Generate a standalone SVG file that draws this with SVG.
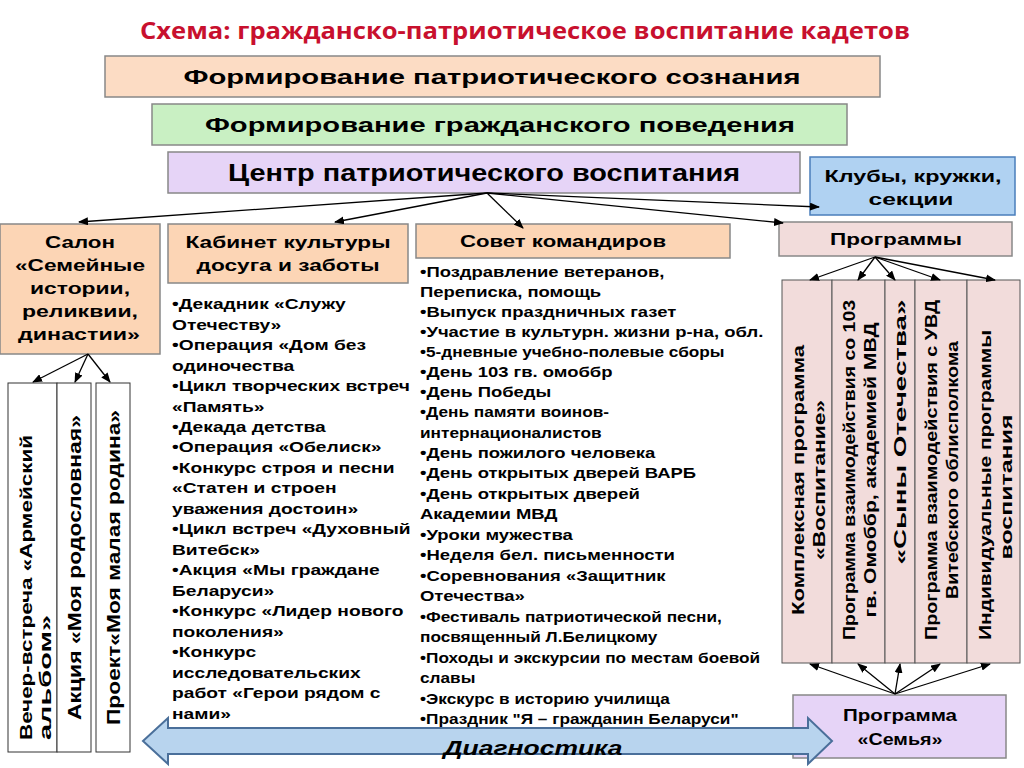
<svg xmlns="http://www.w3.org/2000/svg" width="1024" height="768" viewBox="0 0 1024 768">
<defs>
<marker id="ah" markerWidth="10" markerHeight="8" refX="9" refY="4" orient="auto" markerUnits="userSpaceOnUse"><path d="M0,0 L10,4 L0,8 Z" fill="#000"/></marker>
<style>
text{font-family:"Liberation Sans",Arial,sans-serif;font-weight:bold;fill:#000}
.b{stroke:#888;stroke-width:1.5}
.h{font-size:21px;text-anchor:middle}
.s{font-size:17px;text-anchor:middle}
.l{font-size:15px}
.v{font-size:16px;text-anchor:middle}
.c line{stroke:#000;stroke-width:1.3;marker-end:url(#ah)}
</style>
</defs>
<rect width="1024" height="768" fill="#fff"/>
<text x="525" y="39" textLength="770" lengthAdjust="spacingAndGlyphs" style="font-family:'Open Sans','Liberation Sans',sans-serif;font-size:24px;fill:#c8102e" text-anchor="middle">Схема: гражданско-патриотическое воспитание кадетов</text>
<g id="n1"><rect class="b" x="105" y="56" width="775" height="41" fill="#fcdcc4"/><text class="h" x="492" y="84" textLength="617" lengthAdjust="spacingAndGlyphs">Формирование патриотического сознания</text></g>
<g id="n2"><rect class="b" x="152" y="104" width="695" height="41" fill="#c9f0c3"/><text class="h" x="500" y="132" textLength="590" lengthAdjust="spacingAndGlyphs">Формирование гражданского поведения</text></g>
<g id="n3"><rect class="b" x="168" y="152" width="632" height="41" fill="#e6d4f7"/><text class="h" x="484" y="181" style="font-size:23px" textLength="512" lengthAdjust="spacingAndGlyphs">Центр патриотического воспитания</text></g>
<g id="n4"><rect x="810" y="157" width="205" height="58" fill="#b0d2f2" stroke="#4a7ebb" stroke-width="1.5"/><text class="s" x="913" y="182" textLength="177" lengthAdjust="spacingAndGlyphs">Клубы, кружки,</text><text class="s" x="911" y="205" textLength="85" lengthAdjust="spacingAndGlyphs">секции</text></g>
<g id="n5"><rect class="b" x="0" y="224" width="160" height="130" fill="#fcd5b5"/><text class="s" x="80" y="248" textLength="70" lengthAdjust="spacingAndGlyphs">Салон</text><text class="s" x="80" y="271" textLength="130" lengthAdjust="spacingAndGlyphs">«Семейные</text><text class="s" x="80" y="294" textLength="100" lengthAdjust="spacingAndGlyphs">истории,</text><text class="s" x="80" y="317" textLength="116" lengthAdjust="spacingAndGlyphs">реликвии,</text><text class="s" x="79" y="340" textLength="122" lengthAdjust="spacingAndGlyphs">династии»</text></g>
<g id="n6"><rect class="b" x="168" y="224" width="240" height="59" fill="#fcd5b5"/><text class="s" x="288" y="248" textLength="205" lengthAdjust="spacingAndGlyphs">Кабинет культуры</text><text class="s" x="288" y="271" textLength="183" lengthAdjust="spacingAndGlyphs">досуга и заботы</text></g>
<g id="n7"><rect class="b" x="416" y="224" width="314" height="34" fill="#fcd5b5"/><text class="s" x="563" y="247" textLength="206" lengthAdjust="spacingAndGlyphs">Совет командиров</text></g>
<g id="n8"><rect class="b" x="779" y="222" width="233" height="34" fill="#f2dcdb"/><text class="s" x="896" y="245" textLength="132" lengthAdjust="spacingAndGlyphs">Программы</text></g>
<g id="list1" class="l" transform="translate(172,0) scale(1.28,1) translate(-172,0)">
<text x="172" y="309">•Декадник «Служу</text>
<text x="172" y="330">Отечеству»</text>
<text x="172" y="350">•Операция «Дом без</text>
<text x="172" y="371">одиночества</text>
<text x="172" y="391">•Цикл творческих встреч</text>
<text x="172" y="412">«Память»</text>
<text x="172" y="432">•Декада детства</text>
<text x="172" y="452">•Операция «Обелиск»</text>
<text x="172" y="473">•Конкурс строя и песни</text>
<text x="172" y="493">«Статен и строен</text>
<text x="172" y="514">уважения достоин»</text>
<text x="172" y="534">•Цикл встреч «Духовный</text>
<text x="172" y="555">Витебск»</text>
<text x="172" y="575">•Акция «Мы граждане</text>
<text x="172" y="596">Беларуси»</text>
<text x="172" y="616">•Конкурс «Лидер нового</text>
<text x="172" y="637">поколения»</text>
<text x="172" y="657">•Конкурс</text>
<text x="172" y="678">исследовательских</text>
<text x="172" y="698">работ «Герои рядом с</text>
<text x="172" y="719">нами»</text>
</g>
<g id="list2" class="l" transform="translate(420,0) scale(1.23,1) translate(-420,0)">
<text x="420" y="277">•Поздравление ветеранов,</text>
<text x="420" y="297">Переписка, помощь</text>
<text x="420" y="317">•Выпуск праздничных газет</text>
<text x="420" y="337">•Участие в культурн. жизни р-на, обл.</text>
<text x="420" y="357" style="font-size:14px">•5-дневные учебно-полевые сборы</text>
<text x="420" y="377">•День 103 гв. омоббр</text>
<text x="420" y="397">•День Победы</text>
<text x="420" y="417" style="font-size:14px">•День памяти воинов-</text>
<text x="420" y="438" style="font-size:14px">интернационалистов</text>
<text x="420" y="458">•День пожилого человека</text>
<text x="420" y="478">•День открытых дверей ВАРБ</text>
<text x="420" y="499">•День открытых дверей</text>
<text x="420" y="519">Академии МВД</text>
<text x="420" y="540">•Уроки мужества</text>
<text x="420" y="560">•Неделя бел. письменности</text>
<text x="420" y="581">•Соревнования «Защитник</text>
<text x="420" y="601">Отечества»</text>
<text x="420" y="622" style="font-size:14px">•Фестиваль патриотической песни,</text>
<text x="420" y="642" style="font-size:14px">посвященный Л.Белицкому</text>
<text x="420" y="663" style="font-size:14px">•Походы и экскурсии по местам боевой</text>
<text x="420" y="683" style="font-size:14px">славы</text>
<text x="420" y="704" style="font-size:14px">•Экскурс в историю училища</text>
<text x="420" y="724" style="font-size:14px">•Праздник "Я – гражданин Беларуси"</text>
</g>
<g id="v1"><rect x="8" y="383" width="49" height="369" fill="#fff" stroke="#333"/><text transform="translate(32,740) rotate(-90)" style="font-size:16px" textLength="305" lengthAdjust="spacingAndGlyphs">Вечер-встреча «Армейский</text><text transform="translate(51,740) rotate(-90)" style="font-size:16px" textLength="125" lengthAdjust="spacingAndGlyphs">альбом»</text></g>
<g id="v2"><rect x="57" y="383" width="34" height="369" fill="#fff" stroke="#333"/><text transform="translate(81,720) rotate(-90)" style="font-size:18px" textLength="305" lengthAdjust="spacingAndGlyphs">Акция «Моя родословная»</text></g>
<g id="v3"><rect x="96" y="383" width="34" height="369" fill="#fff" stroke="#333"/><text transform="translate(120,725) rotate(-90)" style="font-size:18px" textLength="315" lengthAdjust="spacingAndGlyphs">Проект«Моя малая родина»</text></g>
<g id="p1"><rect x="782" y="280" width="50" height="383" fill="#f2dcdb" stroke="#555"/><text class="v" transform="translate(804,480) rotate(-90)" textLength="270" lengthAdjust="spacingAndGlyphs">Комплексная программа</text><text class="v" transform="translate(825,480) rotate(-90)" textLength="160" lengthAdjust="spacingAndGlyphs">«Воспитание»</text></g>
<g id="p2"><rect x="832" y="280" width="53" height="383" fill="#f2dcdb" stroke="#555"/><text class="v" transform="translate(855,470) rotate(-90)" textLength="340" lengthAdjust="spacingAndGlyphs">Программа взаимодействия со 103</text><text class="v" transform="translate(876,470) rotate(-90)" textLength="295" lengthAdjust="spacingAndGlyphs">гв. Омоббр, академией МВД</text></g>
<g id="p3"><rect x="885" y="280" width="30" height="383" fill="#f2dcdb" stroke="#555"/><text class="v" transform="translate(906,432) rotate(-90)" textLength="265" lengthAdjust="spacingAndGlyphs">«Сыны Отечества»</text></g>
<g id="p4"><rect x="915" y="280" width="52" height="383" fill="#f2dcdb" stroke="#555"/><text class="v" transform="translate(937,470) rotate(-90)" textLength="340" lengthAdjust="spacingAndGlyphs">Программа взаимодействия с УВД</text><text class="v" transform="translate(958,470) rotate(-90)" textLength="258" lengthAdjust="spacingAndGlyphs">Витебского облисполкома</text></g>
<g id="p5"><rect x="967" y="280" width="53" height="383" fill="#f2dcdb" stroke="#555"/><text class="v" transform="translate(991,485) rotate(-90)" textLength="310" lengthAdjust="spacingAndGlyphs">Индивидуальные программы</text><text class="v" transform="translate(1012,487) rotate(-90)" textLength="145" lengthAdjust="spacingAndGlyphs">воспитания</text></g>
<g id="n9"><rect class="b" x="793" y="695" width="213" height="63" fill="#e6d4f7"/><text class="s" x="900" y="721" textLength="114" lengthAdjust="spacingAndGlyphs">Программа</text><text class="s" x="900" y="745" textLength="85" lengthAdjust="spacingAndGlyphs">«Семья»</text></g>
<g id="diag"><path d="M143,741 L168,718 L168,728 L808,728 L808,718 L832,741 L808,764 L808,754 L168,754 L168,764 Z" fill="#b8d4ee" stroke="#4a6f9a" stroke-width="2"/><text x="533" y="755" style="font-size:20px;font-style:italic" textLength="179" lengthAdjust="spacingAndGlyphs" text-anchor="middle">Диагностика</text></g>
<g id="connectors" class="c">
<line x1="487" y1="193" x2="79" y2="222"/>
<line x1="487" y1="193" x2="335" y2="222"/>
<line x1="487" y1="193" x2="523" y2="228"/>
<line x1="487" y1="193" x2="783" y2="223"/>
<line x1="487" y1="193" x2="819" y2="207"/>
<line x1="88" y1="354" x2="33" y2="382"/>
<line x1="88" y1="354" x2="75" y2="382"/>
<line x1="88" y1="354" x2="110" y2="382"/>
<line x1="875" y1="257" x2="810" y2="280"/>
<line x1="875" y1="257" x2="858" y2="280"/>
<line x1="875" y1="257" x2="895" y2="280"/>
<line x1="875" y1="257" x2="940" y2="280"/>
<line x1="875" y1="257" x2="995" y2="280"/>
<line x1="895" y1="694" x2="810" y2="664"/>
<line x1="895" y1="694" x2="858" y2="664"/>
<line x1="895" y1="694" x2="900" y2="664"/>
<line x1="895" y1="694" x2="940" y2="664"/>
<line x1="895" y1="694" x2="990" y2="664"/>
</g>
</svg>
